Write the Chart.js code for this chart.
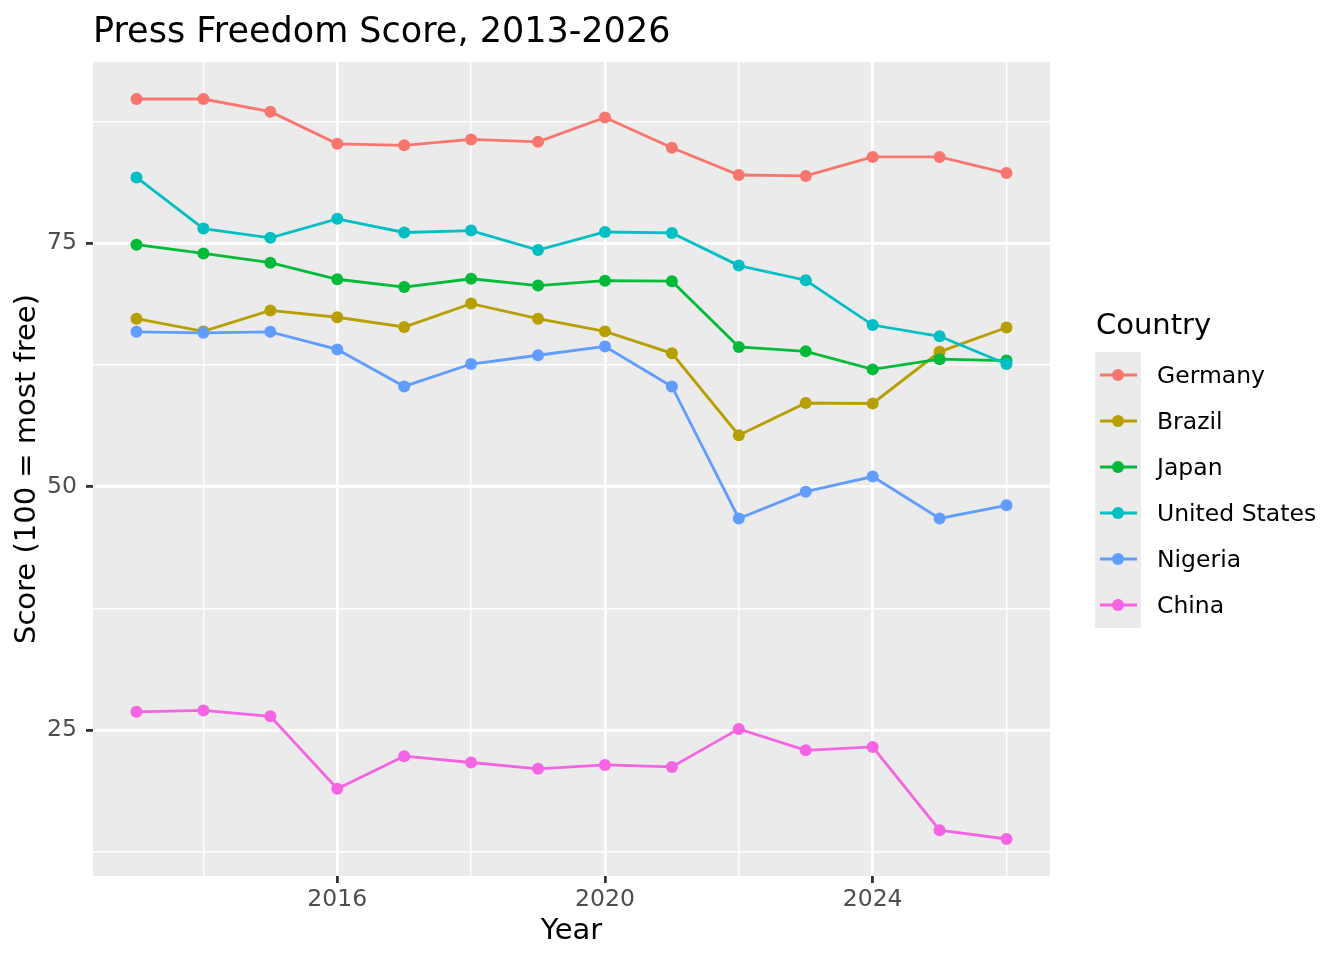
<!DOCTYPE html>
<html>
<head>
<meta charset="utf-8">
<title>Press Freedom Score</title>
<script src="https://cdn.jsdelivr.net/npm/chart.js@4.4.1/dist/chart.umd.min.js"></script>
<style>
  html, body { margin: 0; padding: 0; background: #fff; }
  #wrap { width: 1344px; height: 960px; position: relative; }
</style>
</head>
<body>
<div id="wrap"><canvas id="pressChart"></canvas></div>
<script>
// ---------- data ----------
const years = [2013, 2014, 2015, 2016, 2017, 2018, 2019, 2020, 2021, 2022, 2023, 2024, 2025, 2026];
const countries = ["Germany", "Brazil", "Japan", "United States", "Nigeria", "China"];
const germany = [89.8, 89.8, 88.5, 85.2, 85.05, 85.65, 85.4, 87.9, 84.8, 82.0, 81.9, 83.85, 83.85, 82.2];
const brazil  = [67.25, 65.95, 68.1, 67.4, 66.4, 68.8, 67.25, 65.95, 63.7, 55.3, 58.6, 58.55, 63.85, 66.35];
const japan   = [74.85, 73.95, 73.0, 71.3, 70.5, 71.35, 70.65, 71.15, 71.1, 64.35, 63.9, 62.05, 63.1, 62.95];
const usa     = [81.75, 76.5, 75.55, 77.5, 76.1, 76.3, 74.3, 76.15, 76.05, 72.7, 71.2, 66.6, 65.45, 62.6];
const nigeria = [65.9, 65.8, 65.9, 64.1, 60.3, 62.6, 63.5, 64.4, 60.3, 46.75, 49.5, 51.05, 46.75, 48.1];
const china   = [26.9, 27.05, 26.45, 19.0, 22.35, 21.7, 21.05, 21.45, 21.25, 25.15, 22.95, 23.3, 14.75, 13.85];
const seriesValues = [germany, brazil, japan, usa, nigeria, china];
const colors = ["#F8766D", "#B79F00", "#00BA38", "#00BFC4", "#619CFF", "#F564E3"];

// tick / grid positions
const xMajor = [2016, 2020, 2024];
const xGrid = [2014, 2016, 2018, 2020, 2022, 2024, 2026];
const yMajor = [25, 50, 75];
const yGrid = [12.5, 25, 37.5, 50, 62.5, 75, 87.5];

// ggplot style 5% expansion
const allVals = seriesValues.flat();
const yLo = Math.min(...allVals), yHi = Math.max(...allVals);
const xLo = years[0], xHi = years[years.length - 1];
const yPad = (yHi - yLo) * 0.05, xPad = (xHi - xLo) * 0.05;

Chart.defaults.font.family = "'DejaVu Sans', sans-serif";

// grey panel behind the grid
const panelBg = {
  id: 'panelBg',
  beforeDraw(chart) {
    const a = chart.chartArea, ctx = chart.ctx;
    ctx.save();
    ctx.fillStyle = '#EBEBEB';
    ctx.fillRect(a.left, a.top, a.right - a.left, a.bottom - a.top);
    ctx.restore();
  }
};

// ggplot-like legend on the right
const sideLegend = {
  id: 'sideLegend',
  afterDraw(chart) {
    const ctx = chart.ctx;
    const keyX = 1095, keyW = 46, keyH = 46, top = 352;
    ctx.save();
    ctx.fillStyle = '#000';
    ctx.font = "29px 'DejaVu Sans'";
    ctx.textBaseline = 'alphabetic';
    ctx.textAlign = 'left';
    ctx.fillText('Country', 1096, 334);

    ctx.fillStyle = '#EBEBEB';
    ctx.fillRect(keyX, top, keyW, keyH * countries.length);

    countries.forEach((name, i) => {
      const cy = top + keyH * i + keyH / 2;
      ctx.strokeStyle = colors[i];
      ctx.lineWidth = 2.8;
      ctx.beginPath();
      ctx.moveTo(keyX + 5, cy);
      ctx.lineTo(keyX + keyW - 4, cy);
      ctx.stroke();
      ctx.fillStyle = colors[i];
      ctx.beginPath();
      ctx.arc(keyX + keyW / 2, cy, 6, 0, Math.PI * 2);
      ctx.fill();
      ctx.fillStyle = '#000';
      ctx.font = "23.5px 'DejaVu Sans'";
      ctx.textBaseline = 'middle';
      ctx.fillText(name, 1157, cy + 2);
    });
    ctx.restore();
  }
};

const datasets = countries.map((name, i) => ({
  label: name,
  data: years.map((yr, j) => ({ x: yr, y: seriesValues[i][j] })),
  borderColor: colors[i],
  backgroundColor: colors[i],
  borderWidth: 2.8,
  pointRadius: 6,
  pointHoverRadius: 6,
  pointBorderWidth: 0,
  pointBackgroundColor: colors[i],
  tension: 0,
  order: countries.length - i
}));

new Chart(document.getElementById('pressChart'), {
  type: 'line',
  data: { datasets },
  plugins: [panelBg, sideLegend],
  options: {
    responsive: true,
    maintainAspectRatio: false,
    devicePixelRatio: 1,
    animation: false,
    layout: { padding: { left: 0, top: 0, right: 294, bottom: 0 } },
    plugins: {
      legend: { display: false },
      tooltip: { enabled: false },
      title: {
        display: true,
        text: 'Press Freedom Score, 2013-2026',
        align: 'start',
        fullSize: false,
        color: '#000',
        font: { size: 35, weight: 'normal', lineHeight: 1.2 },
        padding: { top: 12, bottom: 8 }
      }
    },
    scales: {
      x: {
        type: 'linear',
        min: xLo - xPad,
        max: xHi + xPad,
        afterBuildTicks: (scale) => { scale.ticks = xGrid.map(v => ({ value: v })); },
        afterFit: (scale) => { scale.height = 84; },
        border: { display: false },
        grid: {
          color: '#FFFFFF',
          lineWidth: (c) => xMajor.includes(c.tick && c.tick.value) ? 2.8 : 1.4,
          tickColor: (c) => xMajor.includes(c.tick && c.tick.value) ? '#333333' : 'rgba(0,0,0,0)',
          tickWidth: 2.8,
          tickLength: 7,
          drawTicks: true
        },
        ticks: {
          autoSkip: false,
          maxRotation: 0,
          padding: 3,
          color: '#4D4D4D',
          font: { size: 23.5 },
          callback: (v) => xMajor.includes(v) ? String(v) : ''
        },
        title: {
          display: true,
          text: 'Year',
          color: '#000',
          font: { size: 29 },
          padding: { top: 0, bottom: 11 }
        }
      },
      y: {
        type: 'linear',
        min: yLo - yPad,
        max: yHi + yPad,
        afterBuildTicks: (scale) => { scale.ticks = yGrid.map(v => ({ value: v })); },
        afterFit: (scale) => { scale.width = 93; },
        border: { display: false },
        grid: {
          color: '#FFFFFF',
          lineWidth: (c) => yMajor.includes(c.tick && c.tick.value) ? 2.8 : 1.4,
          tickColor: (c) => yMajor.includes(c.tick && c.tick.value) ? '#333333' : 'rgba(0,0,0,0)',
          tickWidth: 2.8,
          tickLength: 7,
          drawTicks: true
        },
        ticks: {
          autoSkip: false,
          padding: 9,
          color: '#4D4D4D',
          font: { size: 23.5 },
          callback: (v) => yMajor.includes(v) ? String(v) : ''
        },
        title: {
          display: true,
          text: 'Score (100 = most free)',
          color: '#000',
          font: { size: 29 },
          padding: { top: 10, bottom: 0 }
        }
      }
    }
  }
});
</script>
</body>
</html>
